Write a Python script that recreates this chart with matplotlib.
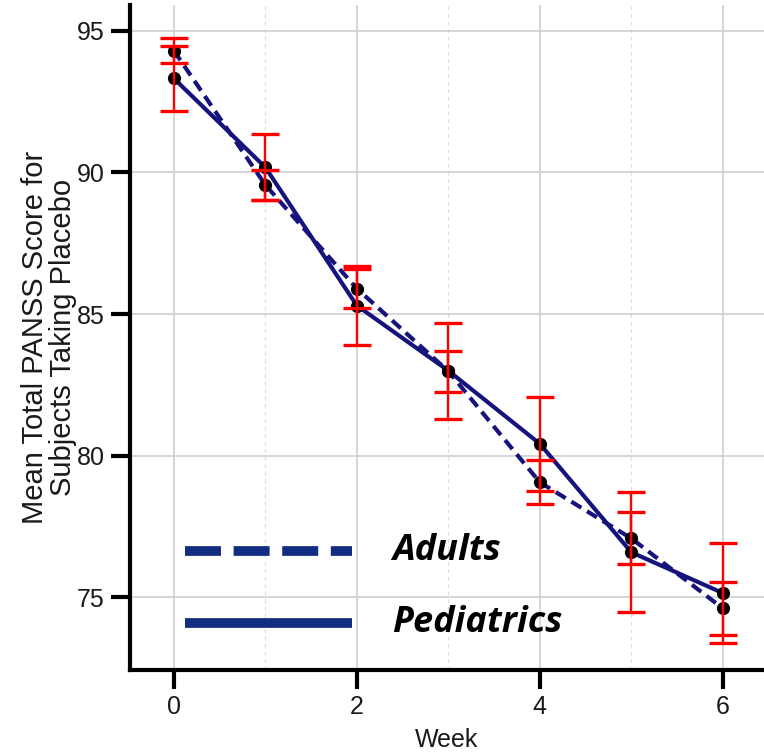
import matplotlib
matplotlib.use("Agg")
import matplotlib.pyplot as plt
from matplotlib.ticker import MultipleLocator

# values
weeks = [0, 1, 2, 3, 4, 5, 6]
adults = [94.3, 89.56, 85.9, 82.98, 79.06, 77.08, 74.61]
adults_err = [0.45, 0.54, 0.7, 0.73, 0.78, 0.92, 0.93]
peds = [93.32, 90.18, 85.3, 83.0, 80.42, 76.59, 75.15]
peds_err = [1.15, 1.16, 1.4, 1.69, 1.66, 2.12, 1.78]
labels = ['Adults', 'Pediatrics']

plt.rcParams['font.family'] = ['Liberation Sans', 'DejaVu Sans']

fig = plt.figure(figsize=(7.64, 7.54), dpi=100)
ax = fig.add_axes([0.170, 0.112, 0.83, 0.881])

navy = '#16147c'
ax.plot(weeks, adults, color=navy, lw=3, dashes=(2.8, 1.6), zorder=3)
ax.plot(weeks, peds, color=navy, lw=3, zorder=3)
ax.plot(weeks, adults, 'o', color='black', ms=8.5, zorder=4)
ax.plot(weeks, peds, 'o', color='black', ms=8.5, zorder=4)
ax.errorbar(weeks, adults, yerr=adults_err, fmt='none', ecolor='red',
            elinewidth=1.7, capsize=10, capthick=2.4, zorder=5)
ax.errorbar(weeks, peds, yerr=peds_err, fmt='none', ecolor='red',
            elinewidth=1.7, capsize=10, capthick=2.4, zorder=5)

ax.set_xlim(-0.48, 6.45)
ax.set_ylim(72.45, 95.9)
ax.xaxis.set_major_locator(MultipleLocator(2))
ax.xaxis.set_minor_locator(MultipleLocator(1))
ax.yaxis.set_major_locator(MultipleLocator(5))

ax.grid(which='major', color='#cfcfcf', lw=1.2)
ax.grid(which='minor', axis='x', color='#dddddd', lw=0.9, ls=(0, (3, 3)))
ax.set_axisbelow(True)

for s in ['top', 'right']:
    ax.spines[s].set_visible(False)
for s in ['left', 'bottom']:
    ax.spines[s].set_linewidth(3)
ax.tick_params(which='major', length=14, width=3, labelsize=18,
               labelcolor='#1a1a1a', pad=4)
ax.tick_params(which='minor', length=0)

ax.set_xlabel('Week', fontsize=18, color='#1a1a1a', labelpad=7)
ax.set_ylabel('Mean Total PANSS Score for\nSubjects Taking Placebo',
              fontsize=21, color='#1a1a1a', labelpad=0, linespacing=1.0)

# hand-drawn key, as in the original slide
leg_color = '#112c80'
ax.plot([0.087, 0.350], [0.179, 0.179], transform=ax.transAxes,
        color=leg_color, lw=7, dashes=(3.7, 1.3), solid_capstyle='butt',
        dash_capstyle='butt', zorder=6)
ax.plot([0.087, 0.350], [0.070, 0.070], transform=ax.transAxes,
        color=leg_color, lw=7, solid_capstyle='butt', zorder=6)
for yy, lab in zip([0.179, 0.070], labels):
    ax.text(0.413, yy, lab, transform=ax.transAxes, va='center', ha='left',
            family='Open Sans', weight='bold', style='italic', size=26)

fig.savefig('out.png', dpi=100)
